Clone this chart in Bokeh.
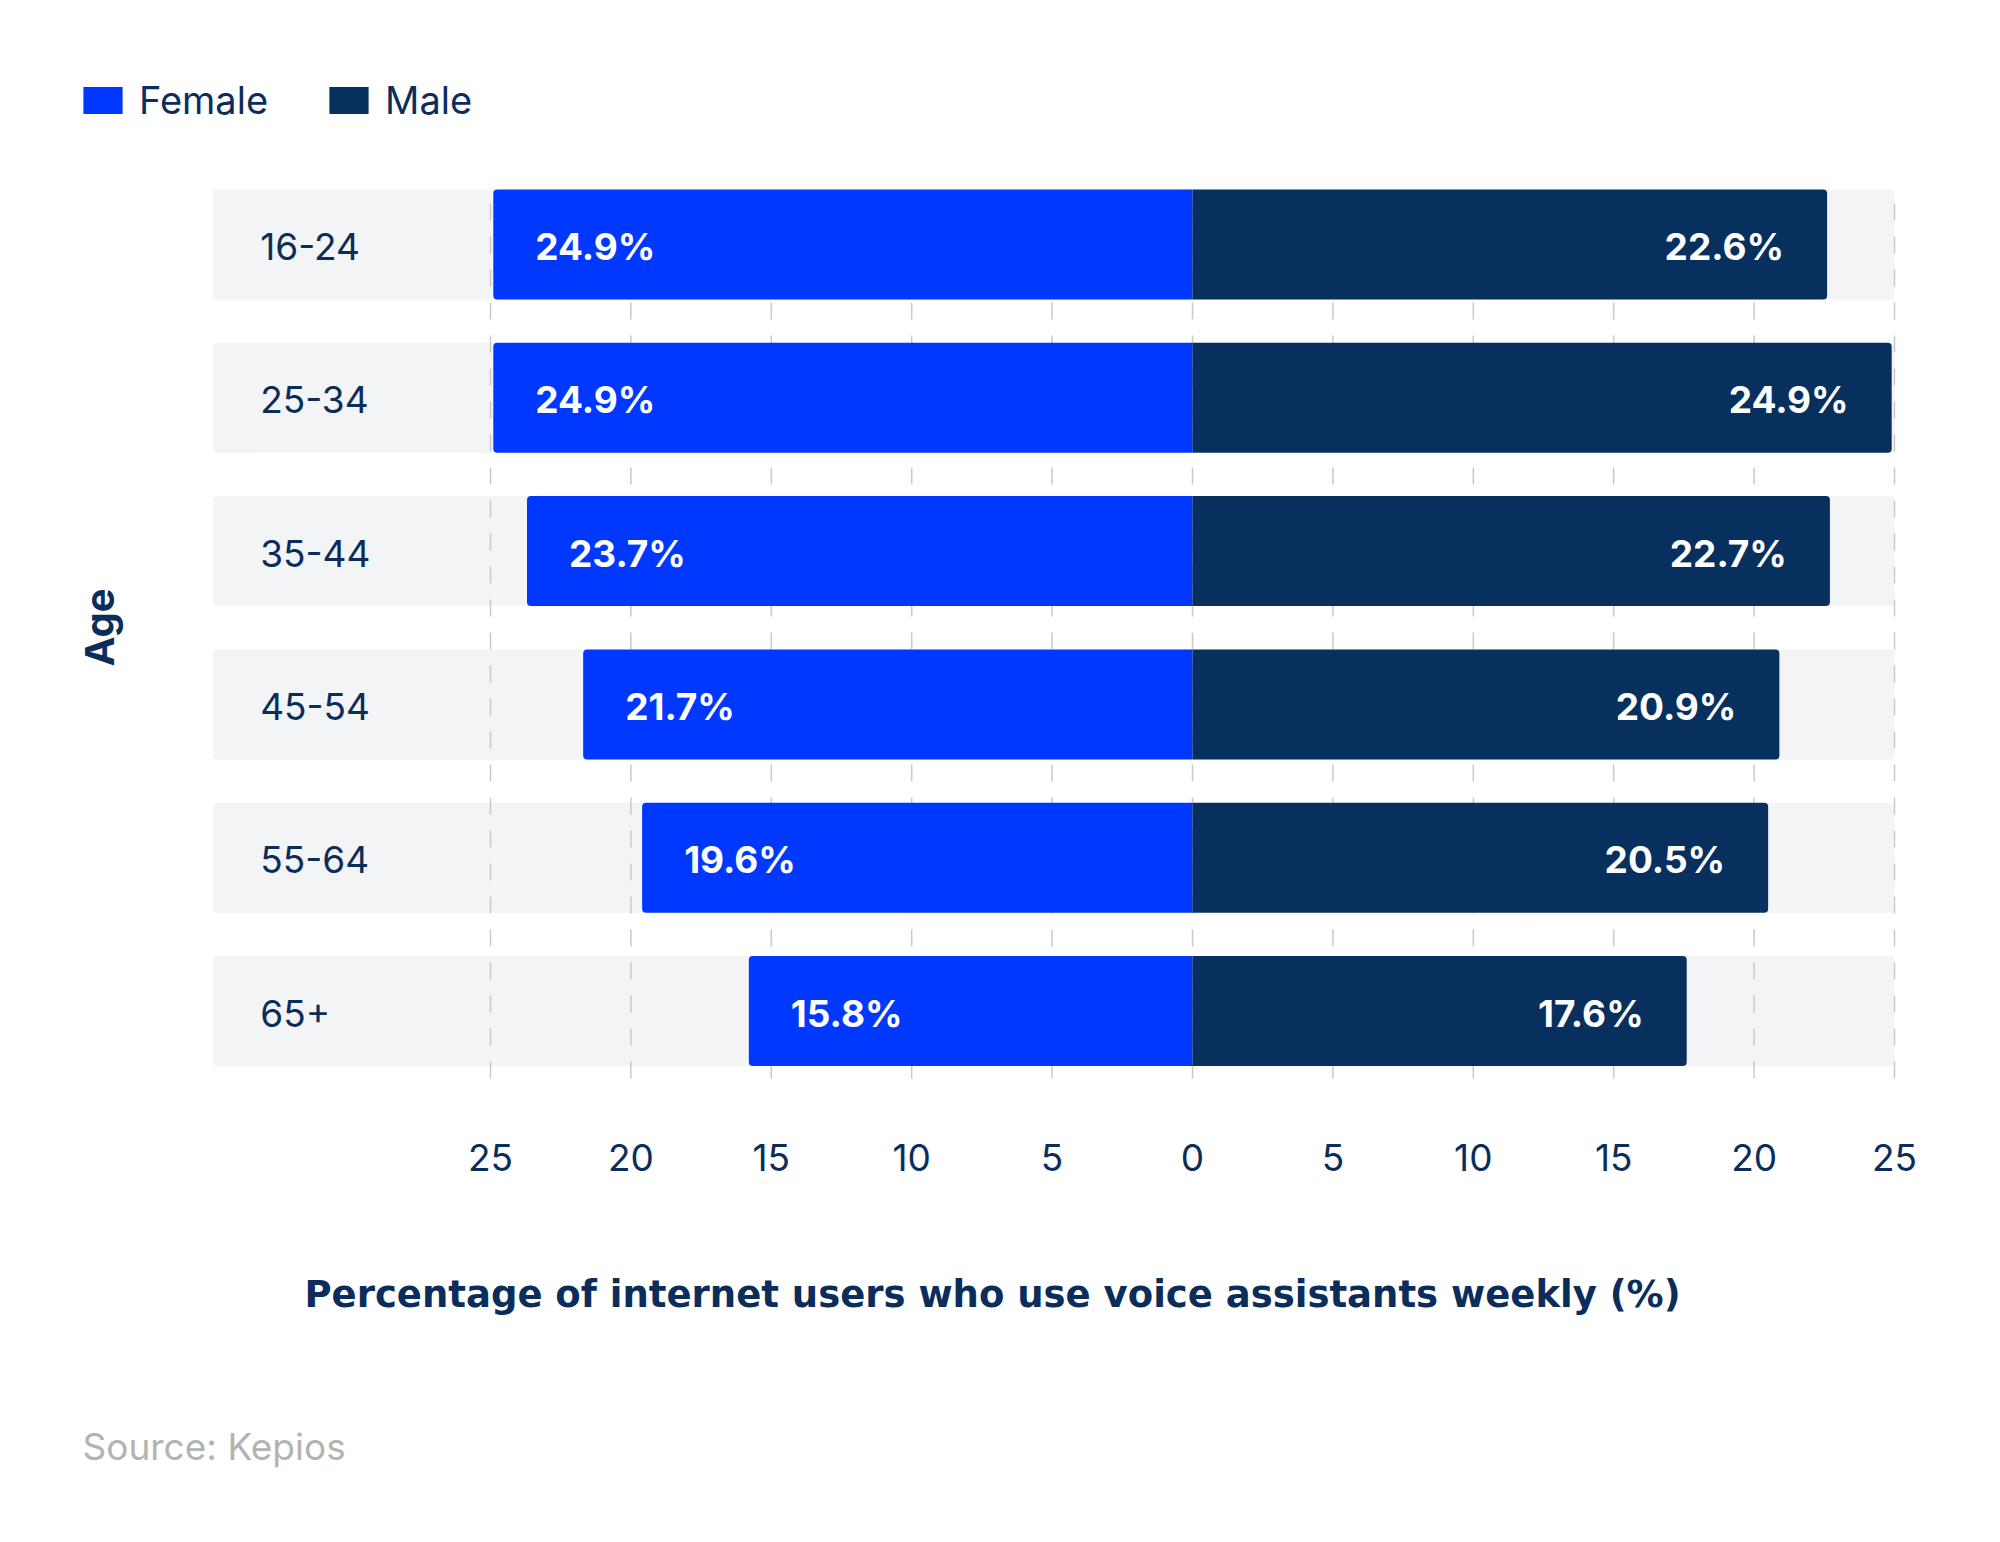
from bokeh.plotting import figure
from bokeh.models import (ColumnDataSource, Range1d, FixedTicker, CustomJSTickFormatter,
                          Legend, LegendItem, Label)
from bokeh.core.properties import value
from bokeh.embed import file_html
from bokeh.resources import INLINE

# ---------------- data ----------------
age_groups = ["16-24", "25-34", "35-44", "45-54", "55-64", "65+"]
female = [24.9, 24.9, 23.7, 21.7, 19.6, 15.8]
male = [22.6, 24.9, 22.7, 20.9, 20.5, 17.6]
tick_values = [-25, -20, -15, -10, -5, 0, 5, 10, 15, 20, 25]
x_title = "Percentage of internet users who use voice assistants weekly (%)"
y_title = "Age"
source_note = "Source: Kepios"

# ---------------- styles ----------------
FEMALE_C = "#0038ff"
MALE_C = "#08305e"
NAVY = "#0b2d5b"
BG = "#f3f4f6"
GRID = "#c9c9c9"
FONT = "Inter"

W, H = 1984, 1526
BAR_H = 0.7175
ROW_LEFT = -34.875

pos = list(range(len(age_groups)))
src = ColumnDataSource(dict(
    pos=pos,
    age=age_groups,
    f_left=[-v for v in female],
    m_right=male,
    f_lab=[f"{v}%" for v in female],
    m_lab=[f"{v}%" for v in male],
))

p = figure(width=W, height=H, output_backend="svg", toolbar_location=None,
           x_range=Range1d(-42.45, 28.205), y_range=Range1d(5.5055, -1.5917),
           y_axis_location=None, min_border_left=0, min_border_right=0,
           min_border_top=0, min_border_bottom=438)
p.outline_line_color = None
p.xgrid.visible = False
p.ygrid.visible = False
p.background_fill_color = "white"
p.border_fill_color = "white"

# row backgrounds
p.hbar(y="pos", left=ROW_LEFT, right=25.0, height=BAR_H, source=src,
       fill_color=BG, line_color=None, border_radius=4)

# dashed gridlines (over backgrounds, behind bars)
p.segment(x0=tick_values, x1=tick_values, y0=[-BAR_H / 2] * len(tick_values),
          y1=[6.0] * len(tick_values), line_color=GRID, line_width=1.5,
          line_dash="17 16", line_dash_offset=19)

# bars
rf = p.hbar(y="pos", left="f_left", right=0, height=BAR_H, source=src,
            fill_color=FEMALE_C, line_color=None, border_radius=(4, 0, 0, 4))
rm = p.hbar(y="pos", left=0, right="m_right", height=BAR_H, source=src,
            fill_color=MALE_C, line_color=None, border_radius=(0, 4, 4, 0))

# bar value labels
p.text(x="f_left", y="pos", text="f_lab", source=src, x_offset=42, y_offset=2,
       text_align="left", text_baseline="middle", text_color="white",
       text_font=value(FONT), text_font_style="bold", text_font_size=value("37px"))
p.text(x="m_right", y="pos", text="m_lab", source=src, x_offset=-43, y_offset=2,
       text_align="right", text_baseline="middle", text_color="white",
       text_font=value(FONT), text_font_style="bold", text_font_size=value("37px"))

# category labels inside row backgrounds
p.text(x=ROW_LEFT, y="pos", text="age", source=src, x_offset=47, y_offset=2,
       text_align="left", text_baseline="middle", text_color=NAVY,
       text_font=value(FONT), text_font_size=value("37px"))

# x axis
ax = p.xaxis[0]
ax.ticker = FixedTicker(ticks=tick_values)
ax.formatter = CustomJSTickFormatter(code="return Math.abs(tick).toString();")
ax.axis_line_color = None
ax.major_tick_line_color = None
ax.minor_tick_line_color = None
ax.major_tick_out = 0
ax.major_tick_in = 0
ax.major_label_standoff = 55
ax.major_label_text_font = FONT
ax.major_label_text_font_size = "37px"
ax.major_label_text_color = NAVY
ax.axis_label = x_title
ax.axis_label_standoff = 99
ax.axis_label_text_font = "DejaVu Sans"
ax.axis_label_text_font_size = "37px"
ax.axis_label_text_font_style = "bold"
ax.axis_label_text_color = NAVY

# source note in the lower border panel
p.add_layout(Label(x=82, y=-60, x_units="screen", y_units="screen", text=source_note,
                   text_align="left", text_baseline="top", text_font=FONT,
                   text_font_size="37px", text_color="#b3b3b3"), "below")

# legend
legend = Legend(items=[LegendItem(label="Female", renderers=[rf]),
                       LegendItem(label="Male", renderers=[rm])],
                orientation="horizontal", location=(78, 965),
                glyph_width=49, glyph_height=34, label_standoff=12, spacing=56,
                padding=0, margin=0, border_line_color=None,
                background_fill_alpha=0, label_text_font=FONT,
                label_text_font_size="38px", label_text_color=NAVY)
p.add_layout(legend, "center")

# y title
p.add_layout(Label(x=99, y=461, x_units="screen", y_units="screen", text=y_title,
                   angle=90, angle_units="deg", text_align="center",
                   text_baseline="middle", text_font=FONT, text_font_style="bold",
                   text_font_size="40px", text_color=NAVY))

open("out.html", "w").write(file_html(p, INLINE))
